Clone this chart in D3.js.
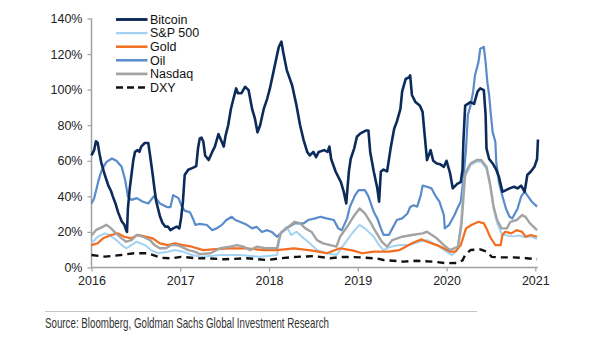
<!DOCTYPE html>
<html>
<head>
<meta charset="utf-8">
<script src="https://cdn.jsdelivr.net/npm/d3@7"></script>
<style>
  body { margin: 0; background: #fff; }
  svg { display: block; font-family: Arial, "Liberation Sans", sans-serif; }
</style>
</head>
<body>
<svg id="chart" width="605" height="341"></svg>
<script>
// realised volatility, [year, %]
const bitcoin = [
  [2016.00,63],[2016.03,66],[2016.05,71],[2016.07,70],[2016.09,64],[2016.11,59],[2016.15,52],[2016.19,46],
  [2016.22,43],[2016.24,40],[2016.27,36],[2016.30,31],[2016.34,26],[2016.37,24],[2016.39,21],[2016.40,20],
  [2016.41,33],[2016.43,44],[2016.45,52],[2016.47,60],[2016.49,65],[2016.52,66],[2016.54,65],[2016.56,68],
  [2016.60,70],[2016.64,70],[2016.66,63],[2016.69,52],[2016.71,44],[2016.73,37],[2016.77,29],[2016.80,25],
  [2016.83,23],[2016.86,23],[2016.89,21],[2016.92,22],[2016.96,23],[2016.99,22],[2017.01,28],[2017.03,37],
  [2017.05,52],[2017.09,55],[2017.14,56],[2017.18,57],[2017.20,67],[2017.22,72.6],[2017.24,73],[2017.26,70.7],
  [2017.28,63],[2017.32,60.4],[2017.36,65],[2017.39,68],[2017.43,75],[2017.46,71.6],[2017.49,68],[2017.51,74],
  [2017.54,80],[2017.57,89],[2017.60,95],[2017.63,100.7],[2017.65,98],[2017.69,98],[2017.73,101.6],[2017.77,99.7],
  [2017.81,89],[2017.84,84],[2017.87,76],[2017.90,80],[2017.94,89],[2017.98,95],[2018.01,100.7],[2018.05,110],
  [2018.09,119.4],[2018.11,124],[2018.14,127],[2018.16,121],[2018.20,111],[2018.26,102.5],[2018.31,91],[2018.35,80],
  [2018.39,71.6],[2018.43,65],[2018.46,63],[2018.50,65],[2018.53,62],[2018.56,65],[2018.62,66],[2018.66,65],
  [2018.68,68],[2018.70,61],[2018.75,54],[2018.81,48],[2018.84,43],[2018.87,36],[2018.90,54],[2018.92,61],
  [2018.96,67],[2018.99,73.5],[2019.03,75.4],[2019.09,77],[2019.12,77],[2019.14,65],[2019.18,54],[2019.22,44.5],
  [2019.24,37],[2019.26,54],[2019.29,55],[2019.33,54],[2019.37,67],[2019.41,78],[2019.44,82],[2019.48,89],
  [2019.50,99],[2019.54,106],[2019.58,107],[2019.59,108],[2019.61,97],[2019.65,93],[2019.70,91],[2019.73,87.5],
  [2019.76,71],[2019.78,60.4],[2019.82,66],[2019.85,60],[2019.89,58.5],[2019.93,58],[2019.97,56.6],[2020.00,60],
  [2020.04,53],[2020.07,44.5],[2020.12,47],[2020.16,48],[2020.18,55],[2020.19,71],[2020.21,91],[2020.24,92],
  [2020.27,93],[2020.31,92],[2020.35,99],[2020.38,100.7],[2020.42,99.7],[2020.44,86],[2020.45,67],[2020.48,61],
  [2020.52,58.5],[2020.56,55],[2020.59,51],[2020.63,42.6],[2020.67,43.5],[2020.71,44.5],[2020.76,45.4],[2020.80,44.5],
  [2020.84,46],[2020.88,42.6],[2020.91,52],[2020.95,54],[2020.99,56.6],[2021.02,61],[2021.03,72]
];

const sp500 = [
  [2016.00,13.6],[2016.07,17.3],[2016.15,19.2],[2016.20,18.3],[2016.28,15.4],[2016.34,12.6],[2016.39,10.8],
  [2016.45,12.6],[2016.51,14.5],[2016.60,12.6],[2016.67,9.8],[2016.75,8],[2016.86,8.9],[2016.94,9.8],[2017.03,8.9],
  [2017.13,7],[2017.24,6.1],[2017.45,7],[2017.67,7],[2017.90,6],[2018.09,7],[2018.13,19.2],[2018.20,22.9],
  [2018.25,18.3],[2018.31,20.1],[2018.39,16.4],[2018.46,13.6],[2018.54,9.8],[2018.65,8],[2018.76,7],[2018.80,9.8],
  [2018.88,15.4],[2018.95,20.1],[2019.02,24],[2019.08,22],[2019.18,17.3],[2019.24,12.6],[2019.29,9.8],[2019.37,11.7],
  [2019.47,12.6],[2019.58,12.6],[2019.69,14.5],[2019.78,15.4],[2019.89,12.6],[2020.00,8.9],[2020.06,7],[2020.12,9.8],
  [2020.16,24],[2020.20,50],[2020.27,57.5],[2020.34,59.5],[2020.39,59.5],[2020.45,55.5],[2020.49,46],[2020.53,33],
  [2020.57,25],[2020.62,19],[2020.68,18],[2020.75,17.5],[2020.82,18],[2020.88,17],[2020.95,17.5],[2021.02,16]
];

const gold = [
  [2016.00,12.6],[2016.07,13.6],[2016.13,16.4],[2016.22,18.3],[2016.30,19.2],[2016.37,17.3],[2016.45,16.4],
  [2016.52,18.3],[2016.62,17.3],[2016.69,16.4],[2016.77,13.6],[2016.86,12.6],[2016.94,13.6],[2017.03,12.6],
  [2017.13,11.7],[2017.26,9.8],[2017.40,10.3],[2017.55,10.8],[2017.75,10.8],[2017.94,9.8],[2018.09,9.8],
  [2018.28,10.8],[2018.49,9.5],[2018.65,8],[2018.80,10.8],[2018.95,9.5],[2019.05,8],[2019.18,8.9],[2019.35,8.9],
  [2019.47,9.8],[2019.54,11.7],[2019.61,13.6],[2019.67,14.9],[2019.72,15.8],[2019.78,14.5],[2019.89,12.6],
  [2019.97,10.8],[2020.04,8.9],[2020.10,8.9],[2020.16,12.6],[2020.22,22],[2020.28,23.9],[2020.36,25.7],
  [2020.42,24.8],[2020.45,22],[2020.49,17.3],[2020.55,12.6],[2020.61,12.6],[2020.63,18.3],[2020.66,20.1],
  [2020.73,19.2],[2020.79,21],[2020.85,20.1],[2020.89,17.3],[2020.95,18.3],[2021.02,17.3]
];

const oil = [
  [2016.00,36],[2016.03,39],[2016.06,45],[2016.08,49],[2016.11,54],[2016.14,57],[2016.17,59.4],[2016.23,61.3],
  [2016.28,60],[2016.34,56.6],[2016.38,49],[2016.41,40],[2016.45,38],[2016.51,39],[2016.58,37],[2016.64,36],
  [2016.70,40],[2016.74,38],[2016.77,36],[2016.85,34],[2016.89,34],[2016.92,40.7],[2016.98,39],[2017.02,34],
  [2017.05,32],[2017.11,31],[2017.15,26.7],[2017.17,24],[2017.22,24.5],[2017.30,23.9],[2017.36,21],[2017.41,22],
  [2017.47,24],[2017.52,26.7],[2017.58,28.5],[2017.62,26.7],[2017.67,25.7],[2017.75,24],[2017.81,22],[2017.86,22.9],
  [2017.92,20],[2017.98,21],[2018.03,20],[2018.09,17.3],[2018.13,19.2],[2018.20,22],[2018.29,24.8],[2018.39,24.8],
  [2018.44,26.7],[2018.52,27.6],[2018.58,28.5],[2018.65,27.6],[2018.73,26.7],[2018.78,22],[2018.82,21],[2018.88,27.6],
  [2018.91,34],[2018.97,40.7],[2019.01,43.5],[2019.08,43.5],[2019.12,40],[2019.18,31.3],[2019.22,27.6],[2019.26,22],
  [2019.29,18.3],[2019.35,18.3],[2019.39,22],[2019.44,26.7],[2019.50,27.6],[2019.56,30.4],[2019.59,34],[2019.63,35],
  [2019.67,34.2],[2019.71,40.7],[2019.73,46],[2019.78,45.4],[2019.83,44.5],[2019.87,40.7],[2019.92,37],[2019.97,29.5],
  [2019.98,22],[2020.03,24],[2020.09,29.5],[2020.12,33],[2020.16,37],[2020.19,50],[2020.22,67],[2020.24,85.7],
  [2020.27,91],[2020.30,99],[2020.32,108],[2020.36,115.6],[2020.38,123],[2020.42,124],[2020.44,115.6],[2020.46,104],
  [2020.48,97],[2020.50,85.7],[2020.52,76],[2020.55,70.7],[2020.56,59.4],[2020.59,48],[2020.63,40],[2020.67,33],
  [2020.71,28.5],[2020.74,27.6],[2020.80,33],[2020.84,39.8],[2020.88,42.6],[2020.92,39.8],[2020.96,37],[2021.02,34.2]
];

const nasdaq = [
  [2016.00,18],[2016.05,21],[2016.13,23],[2016.17,24],[2016.22,22],[2016.28,19],[2016.34,16.4],[2016.39,14.5],
  [2016.45,15.4],[2016.51,18.3],[2016.58,17.3],[2016.66,15.4],[2016.71,12.6],[2016.77,10.8],[2016.84,10.8],
  [2016.90,12.6],[2016.96,12.6],[2017.01,11.7],[2017.09,9.8],[2017.16,8.9],[2017.22,7.5],[2017.34,8],[2017.45,10.8],
  [2017.56,11.7],[2017.64,12.6],[2017.71,11.7],[2017.79,9.8],[2017.86,11.7],[2017.96,10.8],[2018.05,10.8],
  [2018.09,11],[2018.11,15.4],[2018.14,20],[2018.22,22.9],[2018.29,25.7],[2018.35,24.8],[2018.41,22],[2018.48,20],
  [2018.54,15.4],[2018.61,13.6],[2018.69,12.6],[2018.76,11.7],[2018.80,17.3],[2018.88,22.9],[2018.95,28.5],
  [2019.02,33.2],[2019.08,30.4],[2019.14,25.7],[2019.18,22],[2019.27,14.5],[2019.33,11.7],[2019.39,15.4],
  [2019.50,17.3],[2019.61,18.3],[2019.73,19.2],[2019.78,20.1],[2019.89,16.4],[2019.97,12.6],[2020.04,9.8],
  [2020.13,11.7],[2020.17,25],[2020.21,52.9],[2020.27,58.5],[2020.34,60.4],[2020.39,60.4],[2020.45,56.6],
  [2020.49,47.3],[2020.53,34.2],[2020.57,26.7],[2020.62,22],[2020.68,22],[2020.72,25.7],[2020.79,26.7],
  [2020.85,29.5],[2020.89,28.5],[2020.94,24.8],[2021.02,21]
];

const dxy = [
  [2016.00,7],[2016.15,6.1],[2016.33,7],[2016.48,8],[2016.63,8],[2016.78,5.5],[2016.90,5.1],[2017.01,6],
  [2017.20,5.1],[2017.30,5.2],[2017.49,4.6],[2017.75,5.2],[2017.98,4.2],[2018.13,5.2],[2018.31,6],[2018.50,6.4],
  [2018.69,5.2],[2018.84,6],[2019.03,5.7],[2019.22,5],[2019.29,4.2],[2019.52,3.3],[2019.66,3.8],[2019.85,3.3],
  [2020.00,2.4],[2020.13,2.6],[2020.18,4],[2020.21,7],[2020.27,9.8],[2020.38,10.2],[2020.45,8.9],[2020.51,6],
  [2020.60,5.7],[2020.75,5.7],[2020.90,5.2],[2021.02,4.6]
];

const seriesNames = ["Bitcoin", "S&P 500", "Gold", "Oil", "Nasdaq", "DXY"];
const yearTicks = [2016, 2017, 2018, 2019, 2020, 2021];
const pctTicks = [0, 20, 40, 60, 80, 100, 120, 140];

const svg = d3.select("#chart");

const x = d3.scaleLinear().domain([2016, 2021]).range([91.5, 535.3]);
const y = d3.scaleLinear().domain([0, 140]).range([267.5, 18.5]);

const styles = {
  "Bitcoin": { color: "#0c2b5a", width: 2.6 },
  "S&P 500": { color: "#a3d2f2", width: 2 },
  "Gold":    { color: "#f26d1f", width: 2.2 },
  "Oil":     { color: "#5a8bcb", width: 2.2 },
  "Nasdaq":  { color: "#a3a3a3", width: 2.4 },
  "DXY":     { color: "#111111", width: 2.4, dash: "7,5" }
};
const dataByName = {
  "Bitcoin": bitcoin, "S&P 500": sp500, "Gold": gold,
  "Oil": oil, "Nasdaq": nasdaq, "DXY": dxy
};

// axes
const yAxis = svg.append("g")
  .attr("transform", `translate(${x(2016)},0)`)
  .call(d3.axisLeft(y).tickValues(pctTicks).tickSize(4).tickFormat(d => d + "%"));
const xAxis = svg.append("g")
  .attr("transform", `translate(0,${y(0)})`)
  .call(d3.axisBottom(x).tickValues(yearTicks).tickSize(4).tickFormat(d3.format("d")));

[yAxis, xAxis].forEach(g => {
  g.select(".domain").attr("stroke", "#a0a0a0").attr("stroke-width", 1.5);
  g.selectAll(".tick line").attr("stroke", "#a0a0a0").attr("stroke-width", 1.2);
  g.selectAll(".tick text").attr("fill", "#222").attr("font-size", 12.5)
    .attr("font-family", "Arial, 'Liberation Sans', sans-serif");
});
yAxis.select(".domain").attr("d", `M-0,${y(140)}V${y(0)}`);
xAxis.select(".domain").attr("d", `M${x(2016)},0H${x(2021) + 2.5}`);
yAxis.selectAll(".tick text").attr("x", -9);
xAxis.selectAll(".tick text").attr("y", 9);

// series lines
const line = d3.line().x(d => x(d[0])).y(d => y(d[1]));
const drawOrder = ["Oil", "S&P 500", "Gold", "Nasdaq", "Bitcoin", "DXY"];
drawOrder.forEach(name => {
  const s = styles[name];
  svg.append("path")
    .datum(dataByName[name])
    .attr("d", line)
    .attr("fill", "none")
    .attr("stroke", s.color)
    .attr("stroke-width", s.width)
    .attr("stroke-linejoin", "round")
    .attr("stroke-dasharray", s.dash || null);
});

// legend
const legend = svg.append("g");
seriesNames.forEach((name, i) => {
  const s = styles[name];
  const ly = 19.5 + i * 13.6;
  legend.append("line")
    .attr("x1", 116).attr("x2", 147.5).attr("y1", ly).attr("y2", ly)
    .attr("stroke", s.color).attr("stroke-width", s.width + 0.3)
    .attr("stroke-dasharray", s.dash ? "7,4" : null);
  legend.append("text")
    .attr("x", 150).attr("y", ly + 4.3)
    .attr("font-size", 12.5).attr("fill", "#111")
    .text(name);
});

// source footer
svg.append("line")
  .attr("x1", 45).attr("x2", 477).attr("y1", 311.5).attr("y2", 311.5)
  .attr("stroke", "#c4c4c4").attr("stroke-width", 1);
svg.append("text")
  .attr("x", 45).attr("y", 327.5)
  .attr("font-family", "'Liberation Sans Narrow', 'Arial Narrow', sans-serif")
  .attr("font-size", 14.5).attr("fill", "#333")
  .attr("textLength", 284).attr("lengthAdjust", "spacingAndGlyphs")
  .text("Source: Bloomberg, Goldman Sachs Global Investment Research");
</script>
</body>
</html>
